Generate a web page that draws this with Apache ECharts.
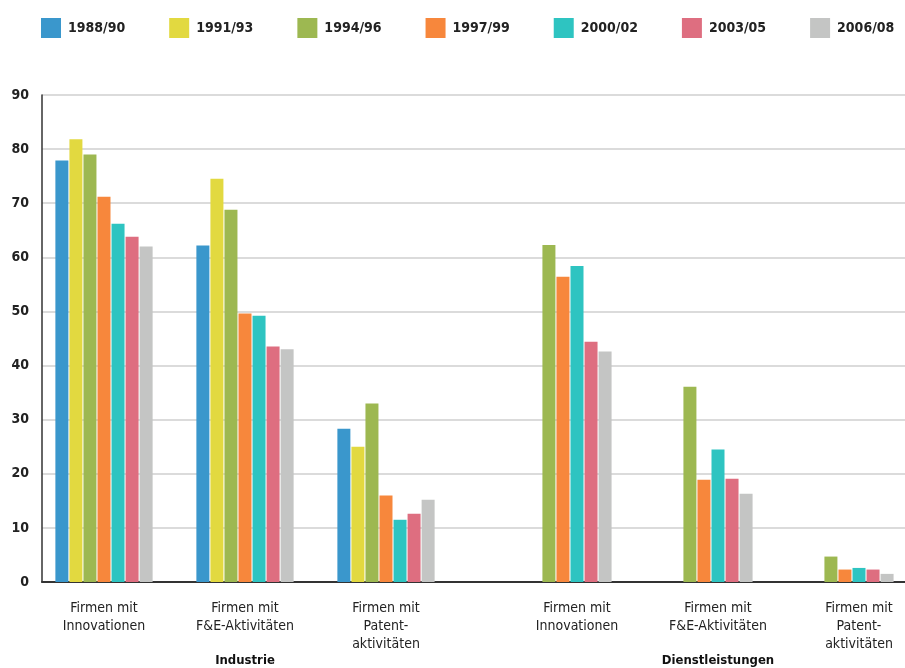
<!DOCTYPE html>
<html>
<head>
<meta charset="utf-8">
<script src="https://cdn.jsdelivr.net/npm/echarts@6/dist/echarts.min.js"></script>
<style>
  html, body { margin: 0; padding: 0; background: #fff; }
  #chart { width: 905px; height: 668px; }
</style>
</head>
<body>
<div id="chart"></div>
<script>
// Zeiträume (Legende)
const periods = ['1988/90', '1991/93', '1994/96', '1997/99', '2000/02', '2003/05', '2006/08']
const colors = ['#3a97cc', '#e2d940', '#9db851', '#f7873c', '#2ec4c1', '#de6e80', '#c4c5c4']

// Kategorien
const industryCats = ['Firmen mit\nInnovationen', 'Firmen mit\nF&E-Aktivitäten', 'Firmen mit\nPatent-\naktivitäten']
const serviceCats = ['Firmen mit\nInnovationen', 'Firmen mit\nF&E-Aktivitäten', 'Firmen mit\nPatent-\naktivitäten']

// Industrie: Werte je Zeitraum (Innovationen, F&E, Patente)
const ind8890 = [77.9, 62.2, 28.3]
const ind9193 = [81.8, 74.5, 25.0]
const ind9496 = [79.0, 68.8, 33.0]
const ind9799 = [71.2, 49.6, 16.0]
const ind0002 = [66.2, 49.2, 11.5]
const ind0305 = [63.8, 43.5, 12.6]
const ind0608 = [62.0, 43.0, 15.2]

// Dienstleistungen: erst ab 1994/96
const svc9496 = [62.3, 36.1, 4.7]
const svc9799 = [56.4, 18.9, 2.3]
const svc0002 = [58.4, 24.5, 2.6]
const svc0305 = [44.4, 19.1, 2.3]
const svc0608 = [42.6, 16.3, 1.5]

// y-Achse
const yTicks = [0, 10, 20, 30, 40, 50, 60, 70, 80, 90]

const industryData = [ind8890, ind9193, ind9496, ind9799, ind0002, ind0305, ind0608]
const serviceData = [null, null, svc9496, svc9799, svc0002, svc0305, svc0608]

const fontFamily = "'DejaVu Sans Condensed', 'DejaVu Sans', sans-serif"

const chart = echarts.init(document.getElementById('chart'))

// Balken: Industrie im Grid 1, Dienstleistungen im Grid 2
const series = []
industryData.forEach((d, i) => {
  series.push({
    name: periods[i],
    type: 'bar',
    xAxisIndex: 1,
    yAxisIndex: 1,
    barWidth: 13,
    barGap: '8%',
    itemStyle: { color: colors[i] },
    data: d
  })
})
serviceData.forEach((d, i) => {
  if (!d) return
  series.push({
    name: periods[i],
    type: 'bar',
    xAxisIndex: 2,
    yAxisIndex: 2,
    barWidth: 13,
    barGap: '8%',
    itemStyle: { color: colors[i] },
    data: d
  })
})

const catAxis = (gridIndex, cats, name) => ({
  type: 'category',
  gridIndex: gridIndex,
  data: cats,
  name: name,
  nameLocation: 'middle',
  nameGap: 79,
  nameMoveOverlap: false,
  nameTextStyle: { fontFamily: fontFamily, fontSize: 13, fontWeight: 'bold', color: '#111', verticalAlign: 'middle' },
  axisLine: { show: false },
  axisTick: { show: false },
  axisLabel: { fontFamily: fontFamily, fontSize: 14, lineHeight: 18, color: '#222', margin: 17, interval: 0 }
})

const hiddenY = (gridIndex) => ({
  type: 'value', gridIndex: gridIndex, min: 0, max: 90, show: false
})

const option = {
  animation: false,
  color: colors,
  legend: {
    data: periods,
    left: 41,
    top: 18,
    width: 864,
    padding: 0,
    icon: 'rect',
    itemWidth: 20,
    itemHeight: 20,
    itemGap: 44,
    textStyle: { fontFamily: fontFamily, fontSize: 14, fontWeight: 'bold', color: '#222', padding: [0, 0, 0, 2] }
  },
  grid: [
    { left: 42, right: 0, top: 95, bottom: 86, outerBoundsMode: 'none' },
    { left: 33.5, width: 423, top: 95, bottom: 86, outerBoundsMode: 'none' },
    { left: 506.5, width: 423, top: 95, bottom: 86, outerBoundsMode: 'none' }
  ],
  xAxis: [
    {
      type: 'value', gridIndex: 0, min: 0, max: 1,
      axisLine: { show: true, lineStyle: { color: '#333', width: 2 } },
      axisTick: { show: false }, axisLabel: { show: false }, splitLine: { show: false }
    },
    catAxis(1, industryCats, 'Industrie'),
    catAxis(2, serviceCats, 'Dienstleistungen')
  ],
  yAxis: [
    {
      type: 'value', gridIndex: 0,
      min: yTicks[0], max: yTicks[yTicks.length - 1], interval: 10,
      axisLine: { show: true, lineStyle: { color: '#333', width: 1.5 } },
      axisTick: { show: false },
      axisLabel: { fontFamily: fontFamily, fontSize: 14, fontWeight: 'bold', color: '#222', margin: 13 },
      splitLine: { lineStyle: { color: '#cfcfcf', width: 1.5 } }
    },
    hiddenY(1),
    hiddenY(2)
  ],
  series: series
}

chart.setOption(option)
</script>
</body>
</html>
